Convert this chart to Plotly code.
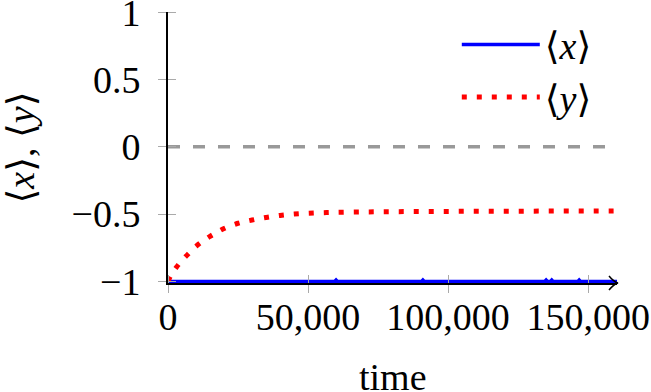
import plotly.graph_objects as go

# ---- data ----
x_time = [0, 59500, 60000, 60500, 90500, 91000, 91500, 134500, 135000, 135500,
          136500, 137000, 137500, 146300, 146800, 147300, 160300]
x_mean = [-1, -1, -0.99, -1, -1, -0.99, -1, -1, -0.99, -1,
          -1, -0.99, -1, -1, -0.99, -1, -1]

y_time = [0, 1000, 3000, 5000, 7500, 10000, 12500, 15000, 17500, 20000, 25000,
          30000, 35000, 40000, 45000, 50000, 55000, 60000, 70000, 80000, 90000,
          100000, 110000, 120000, 130000, 140000, 150000, 160300]
y_mean = [-1.0, -0.955, -0.895, -0.845, -0.79, -0.74, -0.70, -0.665, -0.635,
          -0.607, -0.568, -0.544, -0.525, -0.51, -0.50, -0.494, -0.49, -0.487,
          -0.484, -0.482, -0.481, -0.48, -0.479, -0.479, -0.478, -0.477,
          -0.477, -0.476]

x_ticks = [0, 50000, 100000, 150000]
y_ticks = [-1, -0.5, 0, 0.5, 1]
zero_line_x = [0, 160300]
zero_line_y = [0, 0]

FONT = "Liberation Serif, DejaVu Serif, serif"
FS = 38
XR = [0, 160300]
YR = [-1.012, 1.002]
TICKC = "#aaaaaa"

fig = go.Figure()
fig.add_trace(go.Scatter(x=zero_line_x, y=zero_line_y, mode="lines",
                         line=dict(color="#999999", width=3.5, dash="12px,13px"),
                         showlegend=False, hoverinfo="skip"))
fig.add_trace(go.Scatter(x=x_time, y=x_mean, mode="lines", name="⟨<i>x</i>⟩",
                         line=dict(color="#0000ff", width=3.5)))
fig.add_trace(go.Scatter(x=y_time, y=y_mean, mode="lines", name="⟨<i>y</i>⟩",
                         line=dict(color="#ff0000", width=5, dash="5px,10px",
                                   shape="spline")))

fig.update_layout(
    width=651, height=392,
    margin=dict(l=168, r=34, t=12, b=109, autoexpand=False),
    paper_bgcolor="white", plot_bgcolor="white",
    font=dict(family=FONT, size=FS, color="black"),
    xaxis=dict(range=XR, tickvals=x_ticks, tickformat=",d", ticks="outside",
               ticklen=8, tickwidth=1, tickcolor=TICKC,
               minor=dict(tickvals=x_ticks, ticks="inside", ticklen=8,
                          tickwidth=1, tickcolor=TICKC, showgrid=False),
               showline=True, linecolor="black", linewidth=2,
               showgrid=False, zeroline=False, automargin=False,
               ticklabelstandoff=-9, ticklabeloverflow="allow",
               tickfont=dict(family=FONT, size=FS, color="black")),
    yaxis=dict(range=YR, tickvals=y_ticks, ticks="outside",
               ticklen=8, tickwidth=1, tickcolor=TICKC,
               minor=dict(tickvals=y_ticks, ticks="inside", ticklen=8,
                          tickwidth=1, tickcolor=TICKC, showgrid=False),
               showline=True, linecolor="black", linewidth=2,
               showgrid=False, zeroline=False, automargin=False,
               ticklabelstandoff=10, ticklabeloverflow="allow",
               tickfont=dict(family=FONT, size=FS, color="black")),
    legend=dict(x=0.955, y=0.995, xanchor="right", yanchor="top",
                bgcolor="rgba(0,0,0,0)", borderwidth=0, itemwidth=78,
                tracegroupgap=0,
                font=dict(family=FONT, size=FS)),
    showlegend=True,
)

fig.add_annotation(text="time", xref="paper", yref="paper", x=0.5, y=0,
                   yshift=-94, yanchor="middle", showarrow=False,
                   font=dict(family=FONT, size=FS))
fig.add_annotation(text="⟨<i>x</i>⟩, ⟨<i>y</i>⟩", xref="paper", yref="paper",
                   x=0, y=0.5, xshift=-148, textangle=-90, showarrow=False,
                   xanchor="center", yanchor="middle",
                   font=dict(family=FONT, size=FS))
# arrow tip at end of x-axis
fig.add_shape(type="path", xref="x domain", yref="y domain",
              xsizemode="pixel", ysizemode="pixel", xanchor=1, yanchor=0,
              path="M -8 7 Q -3 1 1 0 Q -3 -1 -8 -7",
              line=dict(color="black", width=1.5))

fig.write_html("out.html",
               config={"displayModeBar": False},
               post_script="document.body.style.margin='0';"
                           "document.body.style.overflow='hidden';")
